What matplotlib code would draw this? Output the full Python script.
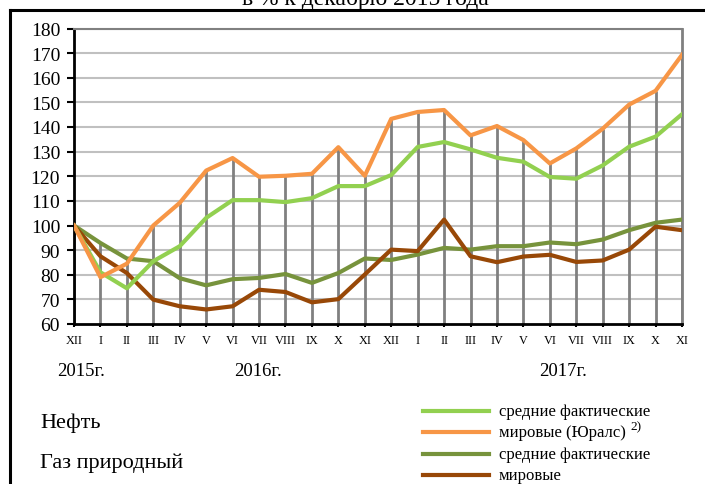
import matplotlib
matplotlib.use("Agg")
import matplotlib.pyplot as plt
from matplotlib.lines import Line2D

# months Dec 2015 .. Nov 2017
months = ['XII', 'I', 'II', 'III', 'IV', 'V', 'VI', 'VII', 'VIII', 'IX', 'X', 'XI',
          'XII', 'I', 'II', 'III', 'IV', 'V', 'VI', 'VII', 'VIII', 'IX', 'X', 'XI']
years = ['2015г.', '2016г.', '2017г.']

# oil, average actual (domestic)
neft_sred = [100, 81, 74.5, 85.5, 91.6, 103.1, 110.3, 110.3, 109.5, 111.1, 116, 116,
             120.5, 131.9, 133.9, 130.9, 127.5, 125.9, 119.7, 119, 124.4, 132, 136.1, 145.2]
# oil, world (Urals)
neft_mir = [100, 79, 84.5, 100, 109.2, 122.3, 127.4, 119.8, 120.2, 121, 131.8, 120.2,
            143.3, 146.1, 146.9, 136.6, 140.4, 134.7, 125.2, 131.3, 139.3, 149.1, 154.7, 169.3]
# natural gas, average actual
gaz_sred = [100, 92.9, 86.6, 85.5, 78.6, 75.7, 78.2, 78.7, 80.3, 76.7, 80.7, 86.6,
            86.0, 88.2, 90.9, 90.2, 91.6, 91.6, 93.1, 92.4, 94.3, 98.1, 101.1, 102.4]
# natural gas, world
gaz_mir = [100, 87.5, 80.7, 69.9, 67.2, 65.9, 67.2, 73.9, 73, 68.8, 70.1, 80.1,
           90.2, 89.6, 102.4, 87.5, 85.1, 87.4, 88.1, 85.2, 85.8, 90.2, 99.5, 98.1]

c_neft_sred = '#92D050'
c_neft_mir = '#F79646'
c_gaz_sred = '#77933C'
c_gaz_mir = '#984807'

serif = ['Liberation Serif', 'DejaVu Serif']

fig = plt.figure(figsize=(7.05, 4.85), dpi=100)
ax = fig.add_axes([74 / 705, 1 - 325 / 485, (682 - 74) / 705, (325 - 29.5) / 485])

x = list(range(len(months)))

# grid
for v in range(70, 181, 10):
    ax.axhline(v, color='#c0c0c0', lw=1.5, zorder=0)

# drop lines from top series to axis
tops = [max(a, b, c, d) for a, b, c, d in zip(neft_sred, neft_mir, gaz_sred, gaz_mir)]
ax.vlines(x, 60, tops, color='#808080', lw=2, zorder=1)

ax.plot(x, gaz_sred, color=c_gaz_sred, lw=3, zorder=3)
ax.plot(x, gaz_mir, color=c_gaz_mir, lw=3, zorder=3)
ax.plot(x, neft_sred, color=c_neft_sred, lw=3, zorder=4)
ax.plot(x, neft_mir, color=c_neft_mir, lw=3, zorder=5)

ax.set_xlim(0, 23)
ax.set_ylim(60, 180)
ax.set_yticks(range(60, 181, 10))
ax.set_xticks(x)
ax.set_xticklabels(months, fontsize=8.8, family=serif)
for lab in ax.get_yticklabels():
    lab.set_family(serif)
    lab.set_fontsize(14)
ax.tick_params(axis='y', direction='out', length=5, width=1.5, pad=5)
ax.tick_params(axis='x', direction='out', length=2, width=1.5, pad=5)

ax.spines['left'].set_color('black')
ax.spines['left'].set_linewidth(2)
ax.spines['bottom'].set_color('black')
ax.spines['bottom'].set_linewidth(2)
ax.spines['top'].set_color('#808080')
ax.spines['top'].set_linewidth(1.5)
ax.spines['right'].set_color('#808080')
ax.spines['right'].set_linewidth(2)

# year labels
for xp, yr in zip([81, 258, 563], years):
    fig.text(xp / 705, 1 - 372 / 485, yr, ha='center', va='center', fontsize=13.5, family=serif)

# title (cut at top)
fig.text(365 / 705, 1 - 5 / 485, 'в % к декабрю 2015 года', ha='center', va='baseline',
         fontsize=17, family=serif)

# frame
fig.add_artist(Line2D([10 / 705, 10 / 705], [0, 1 - 11 / 485], transform=fig.transFigure,
                      color='black', lw=2.2))
fig.add_artist(Line2D([10 / 705, 1], [1 - 11 / 485, 1 - 11 / 485], transform=fig.transFigure,
                      color='black', lw=2.2))

# legend
fig.text(40 / 705, 1 - 423 / 485, 'Нефть', ha='left', va='center', fontsize=16, family=serif)
fig.text(40 / 705, 1 - 463 / 485, 'Газ природный', ha='left', va='center', fontsize=16,
         family=serif)

leg_items = [(412, c_neft_sred, 'средние фактические'),
             (433, c_neft_mir, 'мировые (Юралс)'),
             (455, c_gaz_sred, 'средние фактические'),
             (476, c_gaz_mir, 'мировые')]
for yy, col, txt in leg_items:
    fy = 1 - yy / 485
    fig.add_artist(Line2D([423 / 705, 489 / 705], [fy, fy], transform=fig.transFigure,
                          color=col, lw=3))
    fig.text(499 / 705, fy, txt, ha='left', va='center', fontsize=12, family=serif)
fig.text(630 / 705, 1 - 427 / 485, '2)', ha='left', va='center', fontsize=9.5, family=serif)

fig.savefig('out.png', dpi=100)
